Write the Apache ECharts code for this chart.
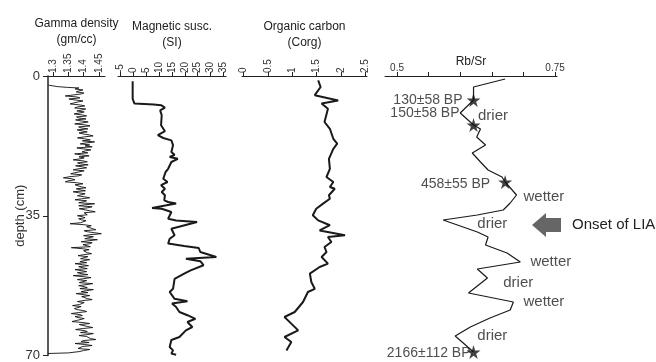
<!DOCTYPE html>
<html>
<head>
<meta charset="utf-8">
<title>Core profiles</title>
<script src="https://cdn.jsdelivr.net/npm/echarts@6/dist/echarts.min.js"></script>
<style>
html, body { margin: 0; padding: 0; background: #fff; }
#chart { width: 656px; height: 362px; }
</style>
</head>
<body>
<div id="chart"></div>
<script>
// gamma density (gm/cc) against depth (cm)
var gammaDepth = [2.3, 2.65, 2.85, 3,
  3.25, 3.5, 3.75, 4, 4.25, 4.5, 4.75, 5, 5.25, 5.5,
  5.75, 6, 6.25, 6.5, 6.75, 7, 7.25, 7.5, 7.75, 8,
  8.25, 8.5, 8.75, 9, 9.25, 9.5, 9.75, 10, 10.25, 10.5,
  10.75, 11, 11.25, 11.5, 11.75, 12, 12.25, 12.5, 12.75, 13,
  13.25, 13.5, 13.75, 14, 14.25, 14.5, 14.75, 15, 15.25, 15.5,
  15.75, 16, 16.25, 16.5, 16.75, 17, 17.25, 17.5, 17.75, 18,
  18.25, 18.5, 18.75, 19, 19.25, 19.5, 19.75, 20, 20.25, 20.5,
  20.75, 21, 21.25, 21.5, 21.75, 22, 22.25, 22.5, 22.75, 23,
  23.25, 23.5, 23.75, 24, 24.25, 24.5, 24.75, 25, 25.25, 25.5,
  25.75, 26, 26.25, 26.5, 26.75, 27, 27.25, 27.5, 27.75, 28,
  28.25, 28.5, 28.75, 29, 29.25, 29.5, 29.75, 30, 30.25, 30.5,
  30.75, 31, 31.25, 31.5, 31.75, 32, 32.25, 32.5, 32.75, 33,
  33.25, 33.5, 33.75, 34, 34.25, 34.5, 34.75, 35, 35.25, 35.5,
  35.75, 36, 36.25, 36.5, 36.75, 37, 37.25, 37.5, 37.75, 38,
  38.25, 38.5, 38.75, 39, 39.25, 39.5, 39.75, 40, 40.25, 40.5,
  40.75, 41, 41.25, 41.5, 41.75, 42, 42.25, 42.5, 42.75, 43,
  43.25, 43.5, 43.75, 44, 44.25, 44.5, 44.75, 45, 45.25, 45.5,
  45.75, 46, 46.25, 46.5, 46.75, 47, 47.25, 47.5, 47.75, 48,
  48.25, 48.5, 48.75, 49, 49.25, 49.5, 49.75, 50, 50.25, 50.5,
  50.75, 51, 51.25, 51.5, 51.75, 52, 52.25, 52.5, 52.75, 53,
  53.25, 53.5, 53.75, 54, 54.25, 54.5, 54.75, 55, 55.25, 55.5,
  55.75, 56, 56.25, 56.5, 56.75, 57, 57.25, 57.5, 57.75, 58,
  58.25, 58.5, 58.75, 59, 59.25, 59.5, 59.75, 60, 60.25, 60.5,
  60.75, 61, 61.25, 61.5, 61.75, 62, 62.25, 62.5, 62.75, 63,
  63.25, 63.5, 63.75, 64, 64.25, 64.5, 64.75, 65, 65.25, 65.5,
  65.75, 66, 66.25, 66.5, 66.75, 67, 67.25, 67.5, 67.75, 68,
  68.25, 68.5, 68.75, 69, 69.35, 69.5];
var gammaValue = [1.286, 1.314, 1.347, 1.385,
  1.372, 1.398, 1.384, 1.376, 1.401, 1.392, 1.366, 1.340, 1.378, 1.388,
  1.352, 1.372, 1.398, 1.382, 1.368, 1.356, 1.389, 1.404, 1.380, 1.371,
  1.407, 1.395, 1.378, 1.402, 1.388, 1.369, 1.396, 1.410, 1.377, 1.384,
  1.408, 1.374, 1.392, 1.415, 1.396, 1.371, 1.405, 1.421, 1.384, 1.392,
  1.414, 1.379, 1.395, 1.412, 1.385, 1.398, 1.418, 1.431, 1.402, 1.380,
  1.404, 1.422, 1.396, 1.436, 1.410, 1.389, 1.420, 1.405, 1.428, 1.378,
  1.398, 1.424, 1.406, 1.395, 1.414, 1.371, 1.392, 1.418, 1.385, 1.402,
  1.388, 1.366, 1.398, 1.412, 1.380, 1.390, 1.415, 1.374, 1.396, 1.410,
  1.382, 1.366, 1.402, 1.396, 1.370, 1.358, 1.394, 1.384, 1.352, 1.334,
  1.362, 1.372, 1.350, 1.340, 1.380, 1.398, 1.372, 1.366, 1.392, 1.408,
  1.376, 1.388, 1.406, 1.366, 1.384, 1.405, 1.392, 1.380, 1.402, 1.420,
  1.394, 1.372, 1.410, 1.400, 1.384, 1.436, 1.404, 1.384, 1.428, 1.414,
  1.386, 1.392, 1.420, 1.438, 1.402, 1.398, 1.412, 1.380, 1.396, 1.405,
  1.384, 1.392, 1.408, 1.410, 1.390, 1.356, 1.402, 1.425, 1.410, 1.404,
  1.430, 1.440, 1.402, 1.412, 1.436, 1.458, 1.420, 1.400, 1.432, 1.426,
  1.404, 1.445, 1.418, 1.392, 1.428, 1.420, 1.398, 1.404, 1.422, 1.360,
  1.396, 1.418, 1.400, 1.394, 1.412, 1.426, 1.400, 1.382, 1.414, 1.402,
  1.390, 1.420, 1.402, 1.388, 1.410, 1.372, 1.396, 1.416, 1.384, 1.396,
  1.412, 1.372, 1.394, 1.410, 1.380, 1.392, 1.414, 1.366, 1.398, 1.424,
  1.400, 1.380, 1.410, 1.404, 1.386, 1.430, 1.408, 1.384, 1.402, 1.412,
  1.388, 1.432, 1.410, 1.392, 1.414, 1.376, 1.398, 1.420, 1.394, 1.400,
  1.412, 1.428, 1.398, 1.380, 1.402, 1.406, 1.386, 1.364, 1.392, 1.398,
  1.370, 1.378, 1.400, 1.410, 1.384, 1.360, 1.388, 1.396, 1.372, 1.382,
  1.402, 1.404, 1.376, 1.362, 1.398, 1.420, 1.386, 1.392, 1.414, 1.430,
  1.396, 1.374, 1.402, 1.412, 1.390, 1.432, 1.414, 1.385, 1.410, 1.404,
  1.422, 1.440, 1.400, 1.392, 1.418, 1.372, 1.404, 1.428, 1.396, 1.398,
  1.382, 1.420, 1.400, 1.388, 1.350, 1.284];

// magnetic susceptibility (SI)
var magDepth = [1.3, 5.7, 6.9, 7.1, 7.3, 7.9, 8.6, 9.8, 12.3, 13.8,
  14.8, 15.5, 16.1, 17.3, 19, 19.7, 20.25, 20.7, 21.5, 23.2,
  24, 25.7, 26.5, 27.3, 28.2, 29, 29.8, 31.1, 31.5, 31.9,
  32.3, 33, 33.2, 34, 35.7, 36.1, 36.5, 38.2, 39.8, 40.7,
  41.9, 42.5, 43, 44, 45.25, 45.7, 46.3, 47.3, 48.6, 49.4,
  50.7, 53.2, 54, 55.7, 56.3, 56.9, 57.75, 59, 59.8, 60.7,
  61.5, 62.75, 63.6, 65.25, 66, 67.75, 68.6, 69.4, 69.7];
var magValue = [-0.3, -0.3, 0.4, 7.9, 10.75, 12.25, 10.4, 11, 10.75, 12.25,
  9.5, 11.6, 14.75, 15.4, 14.75, 16, 14.1, 17.25, 14.75, 13.5,
  12.5, 11.6, 13.25, 10.75, 12.25, 11, 12.25, 12, 13.5, 16.6,
  12.9, 7.25, 11, 14.75, 13.5, 16.6, 24.75, 14.75, 16, 14.1,
  13.5, 19.75, 25.4, 26, 32.25, 20.4, 26, 27.25, 22.25, 19.75,
  16, 15.4, 14.1, 16, 21, 15, 16.6, 17.9, 21, 24.1,
  21, 22.9, 20.4, 17.9, 14.75, 14.1, 15.4, 14.75, 16.6];

// organic carbon (Corg)
var orgDepth = [1.1, 2.75, 4.8, 6.1, 6.9, 8.2, 11.5, 13.2, 15.7, 16.9,
  18.2, 20.7, 23.2, 25.25, 26.5, 27.75, 28.2, 29.8, 30.7, 31.9,
  33.2, 34.8, 36.1, 37.3, 38.6, 39.8, 40.25, 41.5, 42.75, 44,
  45.25, 46.9, 47.75, 49.4, 51.5, 53.2, 54, 56.5, 59, 60.25,
  61.9, 63.6, 65.25, 66.5, 68.6];
var orgValue = [1.53, 1.58, 1.46, 1.94, 1.60, 1.73, 1.66, 1.77, 1.84, 1.92,
  1.84, 1.75, 1.77, 1.70, 1.84, 1.77, 1.87, 1.75, 1.77, 1.63,
  1.49, 1.42, 1.53, 1.77, 1.56, 2.08, 1.73, 1.80, 1.66, 1.70,
  1.60, 1.73, 1.56, 1.36, 1.39, 1.46, 1.32, 1.22, 1.05, 0.84,
  0.98, 1.12, 0.84, 0.98, 0.88];

// Rb/Sr ratio
var rbDepth = [0.75, 2.75, 6, 9.25, 12.25, 13.25, 15.25, 17.25, 19.25, 21.5,
  23.5, 25.25, 26.5, 29.75, 31.75, 33.5, 34.75, 36, 39, 40.25,
  42.25, 44.25, 46.5, 48.25, 50.5, 54.25, 56.5, 58.5, 60.5, 62.75,
  65, 69];
var rbValue = [0.671, 0.621, 0.621, 0.600, 0.621, 0.632, 0.626, 0.640, 0.619, 0.632,
  0.644, 0.666, 0.671, 0.689, 0.679, 0.668, 0.627, 0.573, 0.627, 0.644,
  0.640, 0.674, 0.695, 0.627, 0.643, 0.613, 0.684, 0.679, 0.647, 0.616,
  0.592, 0.621];

// radiocarbon ages (stars)
var ageLabel = ['130±58 BP', '150±58 BP', '458±55 BP', '2166±112 BP'];
var ageDepth = [6, 12.25, 26.5, 69];
var ageRb = [0.621, 0.621, 0.671, 0.621];

// wetter / drier notes
var noteText = ['drier', 'wetter', 'drier', 'wetter', 'drier', 'wetter', 'drier'];
var noteDepth = [10, 30.25, 37, 46.5, 51.75, 56.5, 65];
var noteRb = [0.628, 0.700, 0.627, 0.711, 0.668, 0.700, 0.627];

// axis ticks
var gammaTicks = [1.3, 1.35, 1.4, 1.45];
var magTicks = [-5, 0, 5, 10, 15, 20, 25, 30, 35];
var orgTicks = [0, 0.5, 1, 1.5, 2, 2.5];
var rbTicks = [0.5, 0.55, 0.6, 0.65, 0.7, 0.75];
var rbLabels = [0.5, 0.75];

var FONT = 'Liberation Sans, Arial, Helvetica, sans-serif';
var INK = '#222';

function pairs(xs, ys) {
  return xs.map(function (x, i) { return [x, ys[i]]; });
}

function topAxis(idx, min, max, name, gap, ticks, labels, rotate) {
  return {
    gridIndex: idx,
    type: 'value',
    position: 'top',
    min: min,
    max: max,
    name: name,
    nameLocation: 'middle',
    nameGap: gap,
    nameMoveOverlap: false,
    nameTextStyle: { fontFamily: FONT, fontSize: 12, lineHeight: 16, color: INK },
    axisLine: { show: true, onZero: false, lineStyle: { color: INK, width: 1 } },
    axisTick: { show: true, length: 4, customValues: ticks, lineStyle: { color: INK } },
    axisLabel: {
      customValues: labels,
      rotate: rotate,
      margin: 3,
      fontFamily: FONT,
      fontSize: 10,
      color: '#333'
    },
    splitLine: { show: false }
  };
}

function depthAxis(idx, shown) {
  return {
    gridIndex: idx,
    type: 'value',
    inverse: true,
    min: 0,
    max: 70,
    interval: 35,
    show: shown,
    name: shown ? 'depth (cm)' : '',
    nameLocation: 'middle',
    nameGap: 21,
    nameMoveOverlap: false,
    nameTextStyle: { fontFamily: FONT, fontSize: 13, color: '#333' },
    axisLine: { show: true, lineStyle: { color: INK, width: 1.5 } },
    axisTick: { show: true, length: 5, lineStyle: { color: INK } },
    axisLabel: { fontFamily: FONT, fontSize: 13, margin: 8, color: '#333' },
    splitLine: { show: false }
  };
}

var chart = echarts.init(document.getElementById('chart'));

chart.setOption({
  animation: false,
  backgroundColor: '#fff',
  grid: [
    { left: 48, top: 76, width: 57, height: 280 },
    { left: 118, top: 76, width: 108, height: 280 },
    { left: 242, top: 76, width: 125, height: 280 },
    { left: 385, top: 76, width: 172, height: 280 }
  ],
  xAxis: [
    topAxis(0, 1.2837, 1.47, 'Gamma density\n(gm/cc)', 28, gammaTicks, gammaTicks, -90),
    topAxis(1, -6, 36, 'Magnetic susc.\n(SI)', 25, magTicks, magTicks, -90),
    topAxis(2, -0.03, 2.53, 'Organic carbon\n(Corg)', 25, orgTicks, orgTicks, -90),
    topAxis(3, 0.481, 0.753, 'Rb/Sr', 6, rbTicks, rbLabels, 0)
  ],
  yAxis: [depthAxis(0, true), depthAxis(1, false), depthAxis(2, false), depthAxis(3, false)],
  series: [
    {
      name: 'Gamma density',
      type: 'line',
      xAxisIndex: 0,
      yAxisIndex: 0,
      symbol: 'none',
      lineStyle: { color: '#111', width: 0.9 },
      data: pairs(gammaValue, gammaDepth)
    },
    {
      name: 'Magnetic susc.',
      type: 'line',
      xAxisIndex: 1,
      yAxisIndex: 1,
      symbol: 'none',
      lineStyle: { color: '#1a1a1a', width: 2 },
      data: pairs(magValue, magDepth)
    },
    {
      name: 'Organic carbon',
      type: 'line',
      xAxisIndex: 2,
      yAxisIndex: 2,
      symbol: 'none',
      lineStyle: { color: '#1a1a1a', width: 2 },
      data: pairs(orgValue, orgDepth)
    },
    {
      name: 'Rb/Sr',
      type: 'line',
      xAxisIndex: 3,
      yAxisIndex: 3,
      symbol: 'none',
      lineStyle: { color: '#1a1a1a', width: 1.2 },
      data: pairs(rbValue, rbDepth)
    },
    {
      name: 'ages',
      type: 'scatter',
      xAxisIndex: 3,
      yAxisIndex: 3,
      symbol: 'path://M50,0 L61,35 L98,35 L68,57 L79,91 L50,70 L21,91 L32,57 L2,35 L39,35 Z',
      symbolSize: 14,
      itemStyle: { color: '#111' },
      z: 5,
      label: {
        show: true,
        position: 'left',
        distance: 5,
        fontFamily: FONT,
        fontSize: 14,
        color: INK,
        formatter: function (p) { return ageLabel[p.dataIndex]; }
      },
      data: ageRb.map(function (v, i) {
        var off = [[1, 0], [-2, -12], [-3, 2], [9, 1]][i];
        return { value: [v, ageDepth[i]], label: { offset: off } };
      })
    },
    {
      name: 'notes',
      type: 'scatter',
      xAxisIndex: 3,
      yAxisIndex: 3,
      symbolSize: 0,
      silent: true,
      label: {
        show: true,
        position: 'right',
        distance: 0,
        fontFamily: FONT,
        fontSize: 15,
        color: INK,
        formatter: function (p) { return noteText[p.dataIndex]; }
      },
      data: pairs(noteRb, noteDepth)
    }
  ],
  graphic: [
    {
      type: 'polygon',
      shape: {
        points: [[532, 225], [546, 213], [546, 218], [561, 218], [561, 232], [546, 232], [546, 237]]
      },
      style: { fill: '#666' }
    },
    {
      type: 'text',
      x: 572,
      y: 225,
      style: {
        text: 'Onset of LIA',
        fill: INK,
        fontFamily: FONT,
        fontSize: 15,
        verticalAlign: 'middle',
        align: 'left'
      }
    }
  ]
});
</script>
</body>
</html>
